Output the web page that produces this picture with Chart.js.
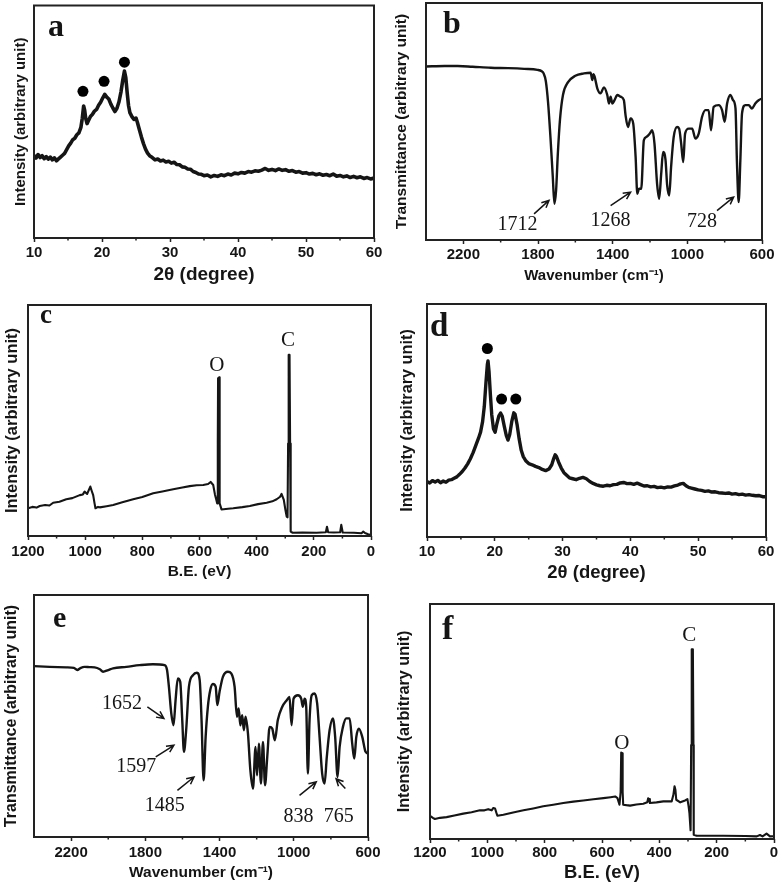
<!DOCTYPE html>
<html>
<head>
<meta charset="utf-8">
<script src="https://cdn.jsdelivr.net/npm/chart.js@4.4.1/dist/chart.umd.min.js"></script>
<style>
  body { margin: 0; background: #fff; }
  #fig { position: relative; width: 782px; height: 887px; overflow: hidden; }
  #fig canvas { position: absolute; }
</style>
</head>
<body>
<div id="fig"></div>
<script>
// ---- data (y in arbitrary units, 0..100 of the frame) ----
const xrdA = [[10,35.6],[10.3,34.4],[10.6,35.9],[10.9,34.6],[11.2,35.4],[11.5,34.1],[11.8,35.0],[12.1,33.9],[12.4,34.8],[12.7,33.6],[13.0,34.5],[13.3,33.2],[13.6,34.0],[13.9,34.8],[14.2,35.6],[14.5,36.4],[14.8,38.0],[15.1,39.6],[15.4,40.8],[15.7,42.3],[16.0,42.9],[16.3,44.4],[16.6,45.2],[16.9,47.6],[17.1,51.5],[17.3,56.8],[17.45,55.0],[17.6,51.5],[17.8,49.2],[18.0,50.4],[18.3,52.3],[18.6,53.2],[18.9,54.6],[19.2,55.3],[19.5,57.1],[19.8,58.4],[20.1,60.2],[20.4,61.8],[20.7,60.6],[21.0,59.8],[21.3,57.6],[21.6,55.9],[21.9,54.4],[22.2,55.8],[22.5,58.6],[22.8,63.0],[23.05,67.8],[23.3,71.8],[23.5,69.0],[23.7,62.5],[23.9,57.0],[24.1,53.9],[24.4,52.2],[24.7,51.0],[25.0,51.6],[25.2,49.8],[25.5,46.6],[25.8,43.4],[26.1,40.6],[26.4,38.2],[26.7,36.5],[27.0,35.4],[27.4,34.6],[27.8,33.6],[28.2,34.0],[28.6,33.1],[29.0,33.5],[29.4,32.7],[29.8,33.0],[30.2,32.2],[30.6,32.6],[31.0,31.6],[31.4,31.5],[31.8,30.6],[32.2,30.4],[32.6,29.7],[33.0,29.6],[33.4,28.6],[33.8,28.2],[34.2,27.5],[34.6,27.4],[35.0,26.8],[35.5,27.1],[36.0,26.3],[36.5,26.9],[37.0,26.5],[37.5,27.2],[38.0,26.8],[38.5,27.5],[39.0,27.1],[39.5,27.9],[40.0,27.6],[40.5,28.2],[41.0,27.9],[41.5,28.6],[42.0,28.3],[42.5,28.9],[43.0,28.7],[43.5,29.2],[44.0,29.9],[44.5,29.1],[45.0,29.5],[45.5,29.0],[46.0,29.7],[46.5,29.1],[47.0,29.4],[47.5,28.7],[48.0,29.0],[48.5,28.3],[49.0,28.6],[49.5,27.9],[50.0,28.1],[50.5,27.5],[51.0,27.8],[51.5,27.2],[52.0,27.6],[52.5,27.0],[53.0,27.3],[53.5,26.8],[54.0,27.5],[54.5,26.6],[55.0,26.9],[55.5,26.3],[56.0,26.7],[56.5,26.0],[57.0,26.5],[57.5,25.9],[58.0,26.3],[58.5,25.6],[59.0,26.0],[59.5,25.4],[60.0,25.8]];
const bulletsA = [[17.2,63.1],[20.3,67.4],[23.3,75.6]];

const irB = [[2400,73.2],[2300,73.4],[2231,73.4],[2150,73.1],[2053,72.7],[1960,72.5],[1874,72.2],[1803,71.8],[1780,71.2],[1770,70.3],[1758,67.0],[1746,58.0],[1733,43.0],[1721,27.0],[1712,15.3],[1703,21.0],[1694,36.0],[1682,51.0],[1666,61.3],[1640,66.5],[1600,69.3],[1554,70.3],[1518,70.6],[1509,67.5],[1503,70.0],[1497,69.0],[1482,63.9],[1465,61.9],[1447,64.4],[1429,61.2],[1420,57.6],[1411,60.5],[1402,57.6],[1390,59.0],[1375,61.2],[1358,60.5],[1340,59.0],[1331,52.7],[1318,47.7],[1304,51.3],[1290,49.2],[1277,35.0],[1268,19.5],[1259,21.6],[1247,21.6],[1233,42.1],[1219,43.5],[1201,44.9],[1188,46.3],[1176,40.7],[1162,23.7],[1151,17.4],[1140,28.0],[1130,37.1],[1117,33.9],[1108,23.0],[1097,18.8],[1087,30.8],[1073,43.5],[1055,47.7],[1044,47.0],[1033,40.7],[1022,32.9],[1012,44.9],[992,47.0],[974,47.0],[957,42.8],[939,44.9],[921,52.0],[903,54.8],[886,54.8],[873,46.3],[859,56.2],[832,56.9],[814,54.8],[800,49.9],[787,57.6],[769,61.2],[755,59.0],[742,55.5],[734,32.2],[725,16.0],[716,33.6],[707,53.4],[689,56.9],[671,56.9],[654,55.5],[636,57.6],[618,59.0],[600,59.7]];
const peaksB = ['1712', '1268', '728'];

const xpsC = [[1200,12.0],[1185,12.6],[1170,12.3],[1159,13.0],[1140,13.4],[1125,13.2],[1112,14.4],[1090,14.8],[1066,15.9],[1045,16.4],[1019,17.7],[1008,18.0],[1002,19.2],[993,18.2],[987,20.0],[982,21.4],[977,19.5],[972,17.7],[967,14.0],[964,12.0],[955,12.6],[949,12.4],[925,12.9],[902,13.4],[870,14.6],[832,15.9],[800,16.9],[762,18.5],[730,19.3],[692,20.2],[660,21.0],[634,21.6],[610,22.0],[587,22.1],[570,22.5],[561,23.4],[552,22.1],[546,18.0],[541,15.6],[538,14.1],[536,40.0],[535,68.3],[531,68.7],[530,40.0],[529,14.1],[523,11.5],[500,11.8],[482,12.0],[450,12.5],[424,13.0],[395,13.8],[365,14.4],[345,15.0],[330,15.9],[318,17.0],[313,18.2],[305,15.6],[299,11.0],[295,8.4],[292,8.1],[290,40.0],[288,78.4],[285,78.4],[283,40.0],[281,1.9],[274,1.4],[240,1.5],[190,1.4],[158,1.6],[154,4.0],[150,1.6],[130,1.5],[108,1.6],[104,4.8],[99,1.5],[60,1.4],[33,1.2],[27,1.9],[21,1.3],[10,0.8],[0,0.4]];
const elementsC = ['O', 'C'];

const xrdD = [[10,23.8],[10.4,23.2],[10.8,24.2],[11.2,23.6],[11.6,24.3],[12.0,23.3],[12.4,24.0],[12.8,23.5],[13.2,24.4],[13.6,24.6],[14.0,25.2],[14.4,25.8],[14.8,26.9],[15.2,28.1],[15.6,29.6],[16.0,31.4],[16.4,33.6],[16.8,36.2],[17.2,39.3],[17.6,42.4],[17.9,45.0],[18.2,49.5],[18.45,56.0],[18.7,66.5],[18.9,74.0],[19.0,75.6],[19.15,71.0],[19.35,61.0],[19.55,52.5],[19.8,46.5],[20.05,45.0],[20.3,48.5],[20.6,52.0],[20.85,53.2],[21.1,51.8],[21.4,47.5],[21.7,43.5],[21.95,41.6],[22.2,44.0],[22.5,49.5],[22.8,53.3],[23.0,52.6],[23.3,48.0],[23.6,42.0],[23.9,37.2],[24.2,34.5],[24.6,32.6],[25.0,31.5],[25.5,31.0],[26.0,30.3],[26.5,29.8],[27.0,29.0],[27.5,28.5],[28.0,29.2],[28.4,31.0],[28.7,33.8],[28.9,35.3],[29.1,34.5],[29.4,32.2],[29.8,29.6],[30.2,27.6],[30.6,26.5],[31.0,25.4],[31.5,25.0],[32.0,24.6],[32.5,25.2],[33.0,25.6],[33.5,25.0],[34.0,23.8],[34.5,23.0],[35.0,22.4],[35.5,22.0],[36.0,21.8],[36.5,22.2],[37.0,22.0],[37.5,22.5],[38.0,22.6],[38.5,23.2],[39.0,23.4],[39.5,22.9],[40.0,23.0],[40.5,22.6],[41.0,23.1],[41.5,22.5],[42.0,21.9],[42.5,22.0],[43.0,21.5],[43.5,21.7],[44.0,21.2],[44.5,21.4],[45.0,21.1],[45.5,21.5],[46.0,21.4],[46.5,21.9],[47.0,22.3],[47.4,22.8],[47.8,23.0],[48.2,22.0],[48.6,21.3],[49.0,21.0],[49.5,20.6],[50.0,20.2],[50.5,20.0],[51.0,19.6],[51.5,19.8],[52.0,19.3],[52.5,19.4],[53.0,19.0],[53.5,18.9],[54.0,18.7],[54.5,18.9],[55.0,18.4],[55.5,18.6],[56.0,18.2],[56.5,18.4],[57.0,18.0],[57.5,18.2],[58.0,17.9],[58.5,17.7],[59.0,17.8],[59.5,17.3],[60.0,17.3]];
const bulletsD = [[18.9,80.9],[21.0,59.2],[23.1,59.2]];

const irE = [[2400,70.6],[2316,70.3],[2226,70.1],[2185,69.9],[2167,69.0],[2150,69.8],[2127,70.3],[2100,70.2],[2073,70.1],[2045,69.3],[2028,68.3],[2000,69.0],[1974,69.7],[1902,70.3],[1831,71.0],[1759,71.4],[1696,71.0],[1683,69.0],[1673,62.1],[1660,51.0],[1648,46.2],[1637,56.6],[1625,65.5],[1612,64.1],[1601,48.3],[1592,35.2],[1580,44.1],[1565,62.1],[1543,66.9],[1522,67.9],[1507,64.8],[1497,48.3],[1486,23.4],[1475,41.4],[1463,53.8],[1450,60.7],[1436,63.2],[1421,62.1],[1412,54.5],[1400,60.0],[1382,66.2],[1355,68.3],[1337,67.6],[1319,62.1],[1306,49.7],[1297,53.1],[1288,46.2],[1278,50.3],[1269,44.1],[1260,49.7],[1247,42.8],[1234,27.6],[1220,20.0],[1206,37.2],[1198,25.5],[1188,38.6],[1177,22.1],[1166,39.3],[1155,21.4],[1143,33.1],[1130,45.5],[1116,44.8],[1102,40.0],[1086,48.3],[1062,53.8],[1037,56.6],[1023,57.9],[1012,46.2],[1001,57.2],[978,58.6],[960,57.2],[951,53.8],[942,57.2],[933,53.8],[924,26.2],[915,48.3],[903,58.6],[888,59.3],[874,55.2],[861,41.4],[847,26.2],[834,22.1],[822,33.1],[807,44.1],[789,49.0],[777,41.4],[764,24.8],[753,37.2],[735,45.5],[717,49.0],[699,49.0],[685,38.6],[674,32.4],[663,41.4],[649,44.8],[631,41.4],[613,35.2],[600,34.5]];
const peaksE = ['1652', '1597', '1485', '838', '765'];

const xpsF = [[1200,9.9],[1190,9.0],[1183,8.5],[1165,9.0],[1142,9.3],[1115,10.0],[1084,10.8],[1055,11.4],[1026,12.2],[1010,12.2],[997,12.7],[985,12.2],[979,13.2],[973,13.0],[968,11.0],[965,9.9],[944,10.3],[910,11.3],[874,12.2],[840,13.0],[805,13.9],[770,14.6],[735,15.3],[700,15.9],[665,16.4],[630,16.9],[595,17.4],[570,17.8],[554,18.1],[546,17.4],[539,14.6],[535,20.0],[533,36.8],[529,36.5],[528,20.0],[526,14.6],[515,14.4],[502,14.2],[480,14.7],[456,15.0],[442,15.6],[439,17.3],[436,17.0],[433,15.3],[410,15.6],[386,16.0],[357,16.0],[351,18.8],[347,22.4],[344,21.0],[341,16.7],[327,15.6],[310,16.4],[302,17.0],[298,14.0],[295,11.0],[291,3.7],[289,40.0],[287,80.7],[283,80.7],[281,40.0],[280,1.8],[270,1.4],[177,1.4],[100,1.3],[60,1.1],[49,1.7],[40,1.1],[26,2.3],[14,1.1],[0,1.2]];
const elementsF = ['O', 'C'];

// ---- axis ticks ----
const xrdTicks = [10, 20, 30, 40, 50, 60];
const xrdMinor = [15, 25, 35, 45, 55];
const irTicks = [2200, 1800, 1400, 1000, 600];
const irMinor = [2000, 1600, 1200, 800];
const xpsTicks = [1200, 1000, 800, 600, 400, 200, 0];
const xpsMinor = [1100, 900, 700, 500, 300, 100];

const intensityTitle = 'Intensity (arbitrary unit)';
const transTitle = 'Transmittance (arbitrary unit)';
const thetaTitle = '2\u03B8 (degree)';
const waveTitle = 'Wavenumber (cm\u207B\u00B9)';
const beTitle = 'B.E. (eV)';

const SANS = '"Liberation Sans", Arial, sans-serif';
const SERIF = '"Liberation Serif", "Times New Roman", serif';
const INK = '#151515';

// layout of each panel in the page
const panels = [
  { letter: 'a', data: xrdA, bullets: bulletsA, xMin: 10, xMax: 60, reverse: false,
    ticks: xrdTicks, minor: xrdMinor, xTitle: thetaTitle, yTitle: intensityTitle,
    canvas: [0, 0, 390, 290], box: [34, 3, 374, 238], tickY: 253, xTitleY: 275, yTitleX: 21,
    xTitleSize: 19, yTitleSize: 15, letterSize: 32, letterAt: [14, 30], lineWidth: 3.6 },
  { letter: 'b', data: irB, xMin: 600, xMax: 2400, reverse: true, smooth: true,
    ticks: irTicks, minor: irMinor, xTitle: waveTitle, yTitle: transTitle,
    canvas: [390, 0, 392, 290], box: [426, 3, 762, 240], tickY: 255, xTitleY: 276, yTitleX: 402,
    xTitleSize: 15, yTitleSize: 15.5, letterSize: 32, letterAt: [17, 30], lineWidth: 2.4,
    notes: [
      { text: peaksB[0], at: [1910, 6.5], arrow: [[1821, 11], [1741, 16.7]] },
      { text: peaksB[1], at: [1411, 8.2], arrow: [[1411, 14.5], [1304, 20.2]] },
      { text: peaksB[2], at: [921, 7.6], arrow: [[841, 12.4], [752, 18.1]] }
    ] },
  { letter: 'c', data: xpsC, xMin: 0, xMax: 1200, reverse: true,
    ticks: xpsTicks, minor: xpsMinor, xTitle: beTitle, yTitle: intensityTitle,
    canvas: [0, 290, 390, 300], box: [28, 305, 371, 536], tickY: 552, xTitleY: 572, yTitleX: 12,
    xTitleSize: 15.5, yTitleSize: 16.5, letterSize: 27, letterAt: [12, 18], lineWidth: 2.1,
    notes: [
      { text: elementsC[0], at: [539, 74] },
      { text: elementsC[1], at: [290, 84.8] }
    ] },
  { letter: 'd', data: xrdD, bullets: bulletsD, xMin: 10, xMax: 60, reverse: false,
    ticks: xrdTicks, minor: xrdMinor, xTitle: thetaTitle, yTitle: intensityTitle,
    canvas: [390, 290, 392, 300], box: [427, 304, 766, 537], tickY: 552, xTitleY: 573, yTitleX: 408,
    xTitleSize: 18.5, yTitleSize: 16.3, letterSize: 33, letterAt: [3, 32], lineWidth: 3.4 },
  { letter: 'e', data: irE, xMin: 600, xMax: 2400, reverse: true, smooth: true,
    ticks: irTicks, minor: irMinor, xTitle: waveTitle, yTitle: transTitle,
    canvas: [0, 590, 390, 297], box: [34, 595, 368, 837], tickY: 853, xTitleY: 873, yTitleX: 12,
    xTitleSize: 15.5, yTitleSize: 16, letterSize: 30, letterAt: [19, 32], lineWidth: 2.4,
    notes: [
      { text: peaksE[0], at: [1926, 55.2], arrow: [[1789, 53.8], [1700, 49]] },
      { text: peaksE[1], at: [1849, 29], arrow: [[1744, 33.1], [1646, 37.9]] },
      { text: peaksE[2], at: [1696, 12.8], arrow: [[1627, 19.3], [1538, 24.8]] },
      { text: peaksE[3], at: [974, 8.3], arrow: [[969, 17.2], [879, 22.8]] },
      { text: peaksE[4], at: [757, 8.3], arrow: [[722, 20], [772, 24.1]] }
    ] },
  { letter: 'f', data: xpsF, xMin: 0, xMax: 1200, reverse: true,
    ticks: xpsTicks, minor: xpsMinor, xTitle: beTitle, yTitle: intensityTitle,
    canvas: [390, 590, 392, 297], box: [430, 604, 774, 839], tickY: 853, xTitleY: 873, yTitleX: 405,
    xTitleSize: 18.5, yTitleSize: 16.2, letterSize: 34, letterAt: [12, 35], lineWidth: 2.1,
    notes: [
      { text: elementsF[0], at: [531, 40.8] },
      { text: elementsF[1], at: [296, 86.8] }
    ] }
];

// frame, minor ticks, panel letter and peak labels
function decor(p) {
  return {
    id: 'decor',
    afterDraw(chart) {
      const { ctx, chartArea: a, scales: { x, y } } = chart;
      ctx.save();
      ctx.strokeStyle = '#222';
      ctx.lineWidth = 2;
      ctx.strokeRect(a.left, a.top, a.right - a.left, a.bottom - a.top);

      ctx.lineWidth = 1.5;
      p.minor.forEach(v => {
        const px = x.getPixelForValue(v);
        ctx.beginPath();
        ctx.moveTo(px, a.bottom);
        ctx.lineTo(px, a.bottom + 2.5);
        ctx.stroke();
      });

      ctx.fillStyle = INK;
      ctx.font = `bold ${p.letterSize}px ${SERIF}`;
      ctx.textAlign = 'left';
      ctx.textBaseline = 'alphabetic';
      ctx.fillText(p.letter, a.left + p.letterAt[0], a.top + p.letterAt[1]);

      (p.notes || []).forEach(n => {
        ctx.font = `${n.text.length === 1 ? 21 : 20}px ${SERIF}`;
        ctx.textAlign = 'center';
        ctx.textBaseline = 'middle';
        ctx.fillText(n.text, x.getPixelForValue(n.at[0]), y.getPixelForValue(n.at[1]));
        if (n.arrow) {
          const x0 = x.getPixelForValue(n.arrow[0][0]), y0 = y.getPixelForValue(n.arrow[0][1]);
          const x1 = x.getPixelForValue(n.arrow[1][0]), y1 = y.getPixelForValue(n.arrow[1][1]);
          const ang = Math.atan2(y1 - y0, x1 - x0);
          ctx.strokeStyle = INK;
          ctx.lineWidth = 1.5;
          ctx.beginPath();
          ctx.moveTo(x0, y0);
          ctx.lineTo(x1, y1);
          ctx.moveTo(x1 - 8 * Math.cos(ang - 0.45), y1 - 8 * Math.sin(ang - 0.45));
          ctx.lineTo(x1, y1);
          ctx.lineTo(x1 - 8 * Math.cos(ang + 0.45), y1 - 8 * Math.sin(ang + 0.45));
          ctx.stroke();
        }
      });
      ctx.restore();
    }
  };
}

function buildPanel(p) {
  const [cx, cy, cw, ch] = p.canvas;
  const [bl, bt, br, bb] = p.box;
  const canvas = document.createElement('canvas');
  canvas.width = cw;
  canvas.height = ch;
  canvas.style.left = cx + 'px';
  canvas.style.top = cy + 'px';
  canvas.style.width = cw + 'px';
  canvas.style.height = ch + 'px';
  document.getElementById('fig').appendChild(canvas);

  const tickLen = 4;
  const tickSize = 15;

  const datasets = [{
    data: p.data.map(d => ({ x: d[0], y: d[1] })),
    borderColor: INK,
    borderWidth: p.lineWidth,
    pointRadius: 0,
    tension: 0,
    cubicInterpolationMode: p.smooth ? 'monotone' : 'default',
    borderJoinStyle: 'round'
  }];
  if (p.bullets) {
    datasets.push({
      data: p.bullets.map(d => ({ x: d[0], y: d[1] })),
      showLine: false,
      pointRadius: 5.5,
      pointBackgroundColor: '#000',
      pointBorderColor: '#000',
      pointBorderWidth: 0
    });
  }

  new Chart(canvas, {
    type: 'line',
    data: { datasets },
    options: {
      responsive: false,
      animation: false,
      devicePixelRatio: 1,
      layout: { padding: { top: bt - cy, right: cx + cw - br, bottom: 0, left: 0 } },
      plugins: { legend: { display: false }, tooltip: { enabled: false } },
      scales: {
        x: {
          type: 'linear',
          bounds: 'data',
          min: p.xMin,
          max: p.xMax,
          reverse: p.reverse,
          afterFit: s => { s.height = cy + ch - bb; },
          afterBuildTicks: s => { s.ticks = p.ticks.map(v => ({ value: v })); },
          grid: { display: true, drawOnChartArea: false, drawTicks: true, tickLength: tickLen,
                  color: '#222', tickColor: '#222', tickWidth: 1.5 },
          border: { display: false },
          ticks: {
            autoSkip: false, maxRotation: 0, color: INK,
            padding: p.tickY - bb - tickLen - tickSize * 0.6,
            font: { family: SANS, weight: 'bold', size: tickSize },
            callback: v => String(v)
          },
          title: {
            display: true, text: p.xTitle, color: INK,
            font: { family: SANS, weight: 'bold', size: p.xTitleSize },
            padding: { top: 0, bottom: cy + ch - p.xTitleY - p.xTitleSize * 0.6 }
          }
        },
        y: {
          min: 0,
          max: 100,
          afterFit: s => { s.width = bl - cx; },
          grid: { display: false },
          border: { display: false },
          ticks: { display: false },
          title: {
            display: true, text: p.yTitle, color: INK,
            font: { family: SANS, weight: 'bold', size: p.yTitleSize },
            padding: { top: p.yTitleX - cx - p.yTitleSize * 0.6, bottom: 0 }
          }
        }
      }
    },
    plugins: [decor(p)]
  });
}

panels.forEach(buildPanel);
</script>
</body>
</html>
